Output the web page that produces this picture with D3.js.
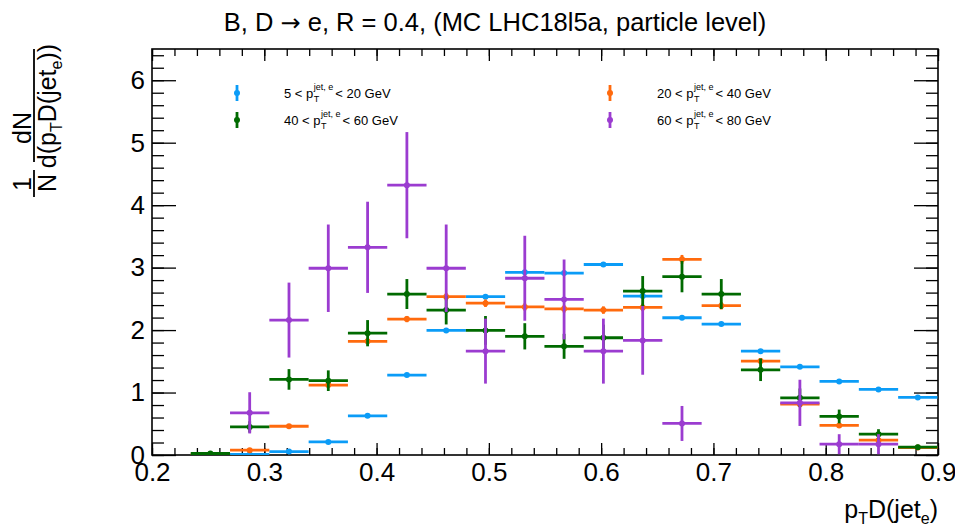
<!DOCTYPE html>
<html><head><meta charset="utf-8">
<script src="https://cdn.jsdelivr.net/npm/d3@7"></script>
<style>
body{margin:0;background:#fff}
svg{display:block}
text{font-family:"Liberation Sans",Arial,Helvetica,sans-serif;fill:#000}
</style>
</head><body>
<svg id="chart" width="955" height="528"></svg>
<script>
// ---------------- data ----------------
const binCenters = [0.252,0.287,0.322,0.357,0.392,0.427,0.462,0.497,0.532,0.567,0.602,0.637,0.672,0.707,0.742,0.777,0.812,0.847,0.882];
const binHalfWidth = 0.0175;

const seriesLabels = ["5", "20", "40", "60"];
const seriesUpper = ["20", "40", "60", "80"];

const values5to20  = [null,0.010,0.055,0.210,0.627,1.280,1.995,2.535,2.925,2.913,3.050,2.545,2.197,2.096,1.663,1.412,1.178,1.050,0.921];
const errors5to20  = [0,0.005,0.010,0.015,0.020,0.025,0.030,0.030,0.030,0.030,0.030,0.030,0.030,0.030,0.025,0.025,0.020,0.020,0.020];

const values20to40 = [0.010,0.077,0.460,1.120,1.820,2.176,2.535,2.430,2.370,2.340,2.320,2.363,3.133,2.390,1.503,0.814,0.473,0.237,0.120];
const errors20to40 = [0.010,0.020,0.030,0.040,0.050,0.050,0.060,0.060,0.060,0.060,0.060,0.060,0.070,0.060,0.050,0.040,0.030,0.020,0.020];

const values40to60 = [0.024,0.450,1.210,1.190,1.950,2.577,2.320,1.995,1.900,1.740,1.877,2.625,2.855,2.577,1.364,0.915,0.617,0.333,0.125];
const errors40to60 = [0.020,0.090,0.165,0.165,0.210,0.240,0.230,0.230,0.210,0.200,0.210,0.240,0.250,0.240,0.180,0.150,0.110,0.080,0.040];

const values60to80 = [null,0.675,2.160,2.990,3.325,4.320,2.990,1.663,2.830,2.490,1.663,1.835,0.505,null,null,0.835,0.173,0.173,null];
const errors60to80 = [0,0.330,0.600,0.700,0.730,0.850,0.700,0.520,0.680,0.640,0.520,0.550,0.280,0,0,0.370,0.160,0.160,0];

const seriesColors = ["#0b9cf7", "#ff6a0d", "#006a00", "#9b3cd0"];

const xTickValues = [0.2,0.3,0.4,0.5,0.6,0.7,0.8,0.9];
const xTickLabels = ["0.2","0.3","0.4","0.5","0.6","0.7","0.8","0.9"];
const yTickValues = [0,1,2,3,4,5,6];
const yTickLabels = ["0","1","2","3","4","5","6"];

const titleBefore = "B, D ";
const titleArrow = "\u2192";
const titleAfter = " e, R = 0.4, (MC LHC18l5a, particle level)";

// ---------------- layout ----------------
const svg = d3.select("#chart");
const frame = {l:152, r:938, t:49, b:455};
const x = d3.scaleLinear().domain([0.2,0.9]).range([frame.l, frame.r]);
const y = d3.scaleLinear().domain([0,6.5]).range([frame.b, frame.t]);

const xMinor = d3.range(0.2, 0.9001, 0.02).map(v => +v.toFixed(3));
const yMinor = d3.range(0, 6.5001, 0.2).map(v => +v.toFixed(3));

svg.append("defs").append("clipPath").attr("id","clip")
  .append("rect").attr("x",frame.l).attr("y",frame.t)
  .attr("width",frame.r-frame.l).attr("height",frame.b-frame.t);

function styleAxis(g){ g.select(".domain").remove(); g.selectAll("line").attr("stroke","#000").attr("stroke-width",1.3); }

// bottom axis
svg.append("g").attr("transform",`translate(0,${frame.b})`)
  .call(d3.axisBottom(x).tickValues(xMinor).tickSize(-7).tickFormat(""))
  .call(styleAxis);
svg.append("g").attr("transform",`translate(0,${frame.b})`)
  .call(d3.axisBottom(x).tickValues(xTickValues).tickSize(-12).tickPadding(8)
        .tickFormat((d,i)=>xTickLabels[i]))
  .call(styleAxis)
  .call(g=>g.selectAll("text").attr("font-size",26).attr("font-family","Liberation Sans, Arial, sans-serif").attr("fill","#000"));
// top axis
svg.append("g").attr("transform",`translate(0,${frame.t})`)
  .call(d3.axisTop(x).tickValues(xMinor).tickSize(-7).tickFormat("")).call(styleAxis);
svg.append("g").attr("transform",`translate(0,${frame.t})`)
  .call(d3.axisTop(x).tickValues(xTickValues).tickSize(-12).tickFormat("")).call(styleAxis);
// left axis
svg.append("g").attr("transform",`translate(${frame.l},0)`)
  .call(d3.axisLeft(y).tickValues(yMinor).tickSize(-12).tickFormat("")).call(styleAxis);
svg.append("g").attr("transform",`translate(${frame.l},0)`)
  .call(d3.axisLeft(y).tickValues(yTickValues).tickSize(-24).tickPadding(7)
        .tickFormat((d,i)=>yTickLabels[i]))
  .call(styleAxis)
  .call(g=>g.selectAll("text").attr("font-size",26).attr("font-family","Liberation Sans, Arial, sans-serif").attr("fill","#000"));
// right axis
svg.append("g").attr("transform",`translate(${frame.r},0)`)
  .call(d3.axisRight(y).tickValues(yMinor).tickSize(-12).tickFormat("")).call(styleAxis);
svg.append("g").attr("transform",`translate(${frame.r},0)`)
  .call(d3.axisRight(y).tickValues(yTickValues).tickSize(-24).tickFormat("")).call(styleAxis);

// frame
svg.append("rect").attr("x",frame.l).attr("y",frame.t)
  .attr("width",frame.r-frame.l).attr("height",frame.b-frame.t)
  .attr("fill","none").attr("stroke","#000").attr("stroke-width",1.6);

// ---------------- data marks ----------------
const allValues = [values5to20, values20to40, values40to60, values60to80];
const allErrors = [errors5to20, errors20to40, errors40to60, errors60to80];
const plot = svg.append("g").attr("clip-path","url(#clip)");

allValues.forEach((vals, s) => {
  const pts = binCenters.map((c,i)=>({c, v:vals[i], e:allErrors[s][i]})).filter(d=>d.v!==null);
  const g = plot.append("g").attr("stroke",seriesColors[s]).attr("fill",seriesColors[s]);
  g.selectAll("line.h").data(pts).join("line").attr("class","h")
    .attr("x1",d=>x(d.c-binHalfWidth)).attr("x2",d=>x(d.c+binHalfWidth))
    .attr("y1",d=>y(d.v)).attr("y2",d=>y(d.v)).attr("stroke-width",2.8);
  g.selectAll("line.v").data(pts).join("line").attr("class","v")
    .attr("x1",d=>x(d.c)).attr("x2",d=>x(d.c))
    .attr("y1",d=>y(d.v-d.e)).attr("y2",d=>y(d.v+d.e)).attr("stroke-width",2.8);
  g.selectAll("circle").data(pts).join("circle")
    .attr("cx",d=>x(d.c)).attr("cy",d=>y(d.v)).attr("r",3).attr("stroke","none");
});

// ---------------- legend ----------------
const legendPos = [{mx:237,tx:284,y:93},{mx:610,tx:657,y:93},{mx:237,tx:284,y:120},{mx:610,tx:657,y:120}];
legendPos.forEach((p,s)=>{
  const col = seriesColors[s];
  svg.append("line").attr("x1",p.mx).attr("x2",p.mx).attr("y1",p.y-8).attr("y2",p.y+8)
    .attr("stroke",col).attr("stroke-width",2.8);
  svg.append("circle").attr("cx",p.mx).attr("cy",p.y).attr("r",3).attr("fill",col);
  const fs = 13, bl = p.y+5;
  const t1 = svg.append("text").attr("x",p.tx).attr("y",bl).attr("font-size",fs)
    .text(seriesLabels[s] + " < p");
  const w1 = t1.node().getComputedTextLength();
  const sx = p.tx + w1 + 0.5;
  svg.append("text").attr("x",sx).attr("y",bl+4).attr("font-size",9).text("T");
  const sup = svg.append("text").attr("x",sx).attr("y",bl-8).attr("font-size",9).text("jet, e");
  const w2 = sup.node().getComputedTextLength();
  svg.append("text").attr("x",sx+w2+2).attr("y",bl).attr("font-size",fs)
    .text("< " + seriesUpper[s] + " GeV");
});

// ---------------- titles ----------------
const tt = svg.append("text").attr("x",495).attr("y",31).attr("text-anchor","middle").attr("font-size",25.5);
tt.append("tspan").text(titleBefore);
tt.append("tspan").attr("font-family","DejaVu Sans, sans-serif").attr("font-size",24).text(titleArrow);
tt.append("tspan").text(titleAfter);

// x-axis title: p_T D(jet_e), right aligned to frame
const xt = svg.append("text").attr("y",518).attr("font-size",25);
xt.append("tspan").text("p");
xt.append("tspan").attr("font-size",16).attr("dy",6).text("T");
xt.append("tspan").attr("dy",-6).text("D(jet");
xt.append("tspan").attr("font-size",16).attr("dy",6).text("e");
xt.append("tspan").attr("dy",-6).text(")");
const xtw = xt.node().getComputedTextLength();
xt.attr("x", frame.r - xtw);

// y-axis title: (1/N) dN / d(p_T D(jet_e)) rotated
function rot(sx, sy){ return `translate(${sx},${sy}) rotate(-90)`; }
svg.append("text").attr("transform",rot(31,184)).attr("text-anchor","middle").attr("font-size",25).text("1");
svg.append("text").attr("transform",rot(56,183)).attr("text-anchor","middle").attr("font-size",25).text("N");
svg.append("line").attr("x1",34).attr("x2",34).attr("y1",170).attr("y2",197).attr("stroke","#000").attr("stroke-width",1.8);
svg.append("text").attr("transform",rot(31,128)).attr("text-anchor","middle").attr("font-size",25).text("dN");
svg.append("line").attr("x1",34).attr("x2",34).attr("y1",49).attr("y2",162).attr("stroke","#000").attr("stroke-width",1.8);
const yd = svg.append("text").attr("transform",rot(56,106)).attr("text-anchor","middle").attr("font-size",25);
yd.append("tspan").text("d(p");
yd.append("tspan").attr("font-size",16).attr("dy",6).text("T");
yd.append("tspan").attr("dy",-6).text("D(jet");
yd.append("tspan").attr("font-size",16).attr("dy",6).text("e");
yd.append("tspan").attr("dy",-6).text("))");
</script>
</body></html>
